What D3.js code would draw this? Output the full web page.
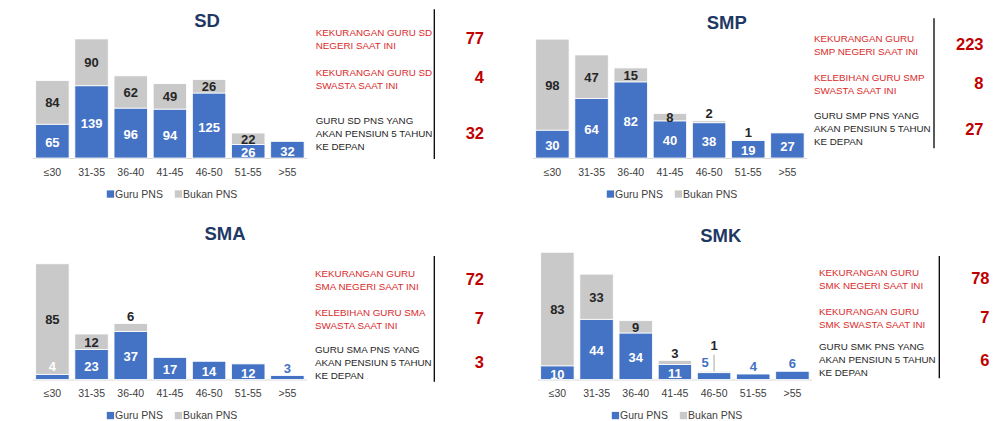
<!DOCTYPE html>
<html>
<head>
<meta charset="utf-8">
<script src="https://cdn.jsdelivr.net/npm/d3@7/dist/d3.min.js"></script>
<style>
  html, body { margin: 0; padding: 0; background: #ffffff; }
  svg { display: block; font-family: "Liberation Sans", Arial, sans-serif; }
</style>
</head>
<body>
<svg id="chart" width="1004" height="421"></svg>
<script>
// Age groups shared by all four school levels
const categories = ["≤30", "31-35", "36-40", "41-45", "46-50", "51-55", ">55"];
const seriesNames = ["Guru PNS", "Bukan PNS"];

// Teacher counts per age group
const sdPns    = [65, 139, 96, 94, 125, 26, 32];
const sdBukan  = [84, 90, 62, 49, 26, 22, 0];
const smpPns   = [30, 64, 82, 40, 38, 19, 27];
const smpBukan = [98, 47, 15, 8, 2, 1, 0];
const smaPns   = [4, 23, 37, 17, 14, 12, 3];
const smaBukan = [85, 12, 6, 0, 0, 0, 0];
const smkPns   = [10, 44, 34, 11, 5, 4, 6];
const smkBukan = [83, 33, 9, 3, 1, 0, 0];

// Side notes: text lines and the figure shown next to them
const sdNotes = [
  ["KEKURANGAN GURU SD", "NEGERI SAAT INI"],
  ["KEKURANGAN GURU SD", "SWASTA SAAT INI"],
  ["GURU SD PNS YANG", "AKAN PENSIUN 5 TAHUN", "KE DEPAN"]
];
const sdNoteValues = [77, 4, 32];
const smpNotes = [
  ["KEKURANGAN GURU", "SMP NEGERI SAAT INI"],
  ["KELEBIHAN GURU SMP", "SWASTA SAAT INI"],
  ["GURU SMP PNS YANG", "AKAN PENSIUN 5 TAHUN", "KE DEPAN"]
];
const smpNoteValues = [223, 8, 27];
const smaNotes = [
  ["KEKURANGAN GURU", "SMA NEGERI SAAT INI"],
  ["KELEBIHAN GURU SMA", "SWASTA SAAT INI"],
  ["GURU SMA PNS YANG", "AKAN PENSIUN 5 TAHUN", "KE DEPAN"]
];
const smaNoteValues = [72, 7, 3];
const smkNotes = [
  ["KEKURANGAN GURU", "SMK NEGERI SAAT INI"],
  ["KEKURANGAN GURU", "SMK SWASTA SAAT INI"],
  ["GURU SMK PNS YANG", "AKAN PENSIUN 5 TAHUN", "KE DEPAN"]
];
const smkNoteValues = [78, 7, 6];

const BLUE = "#4472C4";
const GRAY = "#C9C9C9";
const NAVY = "#1F3864";
const DARK = "#262626";
const RED_TEXT = "#D92B2B";
const RED_NUM = "#C00000";
const SMALL = 7;   // values below this are labelled outside their segment

const svg = d3.select("#chart");

function drawPanel(p) {
  const g = svg.append("g");
  const x = d3.scaleBand().domain(categories).range(p.xRange)
    .paddingInner(0.147).paddingOuter(0.0735);
  const y = d3.scaleLinear().domain([0, p.yMax]).range([p.base, p.base - 130]);

  const rows = categories.map((c, i) => ({ cat: c, pns: p.pns[i], bukan: p.bukan[i] }));
  const stack = d3.stack().keys(["pns", "bukan"])(rows);
  const colors = { pns: BLUE, bukan: GRAY };

  // baseline
  g.append("line")
    .attr("x1", p.xRange[0]).attr("x2", p.xRange[1])
    .attr("y1", p.base + 0.5).attr("y2", p.base + 0.5)
    .attr("stroke", "#D9D9D9").attr("stroke-width", 1);

  // stacked bars
  stack.forEach(layer => {
    g.append("g").selectAll("rect").data(layer).join("rect")
      .attr("x", d => x(d.data.cat))
      .attr("width", x.bandwidth())
      .attr("y", d => y(d[1]))
      .attr("height", d => y(d[0]) - y(d[1]))
      .attr("fill", colors[layer.key])
      .attr("stroke", "#ffffff").attr("stroke-width", 0.8);
  });

  // value labels
  const lab = g.append("g").attr("font-weight", "bold").attr("font-size", 13)
    .attr("text-anchor", "middle");
  rows.forEach(r => {
    const cx = x(r.cat) + x.bandwidth() / 2;
    const blueTop = y(r.pns);
    const top = y(r.pns + r.bukan);
    const bothSmall = r.pns > 0 && r.pns < SMALL && r.bukan > 0 && r.bukan < SMALL;

    if (r.pns > 0) {
      let tx = cx, ty, fill;
      if (r.pns >= SMALL) {
        ty = (blueTop + p.base) / 2 + 6; fill = "#ffffff";
      } else {
        ty = blueTop - 3; fill = r.bukan >= SMALL ? "#ffffff" : BLUE;
        if (bothSmall) { tx = cx - 9; ty -= 3; }
      }
      lab.append("text").attr("x", tx).attr("y", ty).attr("fill", fill).text(r.pns);
    }
    if (r.bukan > 0) {
      let ty;
      if (r.bukan >= SMALL) {
        ty = (top + blueTop) / 2 + 5;
      } else if (bothSmall) {
        ty = top - 21.5;
        g.append("line").attr("x1", cx).attr("x2", cx)
          .attr("y1", top - 16.5).attr("y2", top)
          .attr("stroke", "#A6A6A6").attr("stroke-width", 1);
      } else {
        ty = top - 2.5;
      }
      lab.append("text").attr("x", cx).attr("y", ty).attr("fill", DARK).text(r.bukan);
    }
  });

  // category axis
  const axis = g.append("g").attr("transform", `translate(0,${p.base})`)
    .call(d3.axisBottom(x).tickSize(0).tickPadding(0));
  axis.select(".domain").remove();
  axis.selectAll("text")
    .attr("y", 17.5).attr("dy", null)
    .attr("font-size", 10.5).attr("fill", "#404040")
    .attr("font-family", "Liberation Sans, Arial, sans-serif");

  // legend
  const lx = p.xRange[0] + 74;
  const ly = p.base + 36;
  const leg = g.append("g").attr("font-size", 10.5).attr("fill", "#404040");
  seriesNames.forEach((name, i) => {
    const ox = lx + i * 68;
    leg.append("rect").attr("x", ox).attr("y", ly - 3.6).attr("width", 7.3).attr("height", 7.3)
      .attr("fill", i === 0 ? BLUE : GRAY);
    leg.append("text").attr("x", ox + 8.3).attr("y", ly + 3.8).text(name);
  });

  // title
  g.append("text").attr("x", p.title[1]).attr("y", p.title[2] + 6.6)
    .attr("text-anchor", "middle").attr("font-weight", "bold").attr("font-size", 18.5)
    .attr("fill", NAVY).text(p.title[0]);

  // side notes
  g.append("line").attr("x1", p.rule[0]).attr("x2", p.rule[0])
    .attr("y1", p.rule[1]).attr("y2", p.rule[2])
    .attr("stroke", "#000000").attr("stroke-width", 1.3);
  p.notes.forEach((lines, i) => {
    const y0 = p.noteY[i];
    const col = i < 2 ? RED_TEXT : DARK;
    const t = g.append("text").attr("font-size", 9.8).attr("fill", col);
    lines.forEach((ln, k) => {
      t.append("tspan").attr("x", p.noteX).attr("y", y0 + k * 13 + 3.5).text(ln);
    });
    const cy = y0 + (lines.length - 1) * 6.5 - (lines.length === 2 ? 1 : 0);
    g.append("text").attr("x", p.numX).attr("y", cy + 5.8)
      .attr("text-anchor", "end").attr("font-weight", "bold").attr("font-size", 16.5)
      .attr("fill", RED_NUM).text(p.noteValues[i]);
  });
}

drawPanel({
  pns: sdPns, bukan: sdBukan, yMax: 250, base: 158, xRange: [32.8, 307],
  title: ["SD", 207, 20],
  rule: [434.3, 9.3, 159], noteX: 315.7, numX: 484, noteY: [32.3, 72, 120],
  notes: sdNotes, noteValues: sdNoteValues
});
drawPanel({
  pns: smpPns, bukan: smpBukan, yMax: 140, base: 158, xRange: [532.8, 807],
  title: ["SMP", 726.7, 22.7],
  rule: [934, 18.3, 148.3], noteX: 814, numX: 983.5, noteY: [38.3, 77.3, 115.7],
  notes: smpNotes, noteValues: smpNoteValues
});
drawPanel({
  pns: smaPns, bukan: smaBukan, yMax: 100, base: 379.5, xRange: [32.8, 307],
  title: ["SMA", 225, 233.3],
  rule: [434.3, 256, 381.7], noteX: 315, numX: 484, noteY: [273.3, 312.7, 349.3],
  notes: smaNotes, noteValues: smaNoteValues
});
drawPanel({
  pns: smkPns, bukan: smkBukan, yMax: 95, base: 379.5, xRange: [537.8, 812],
  title: ["SMK", 720.7, 235.7],
  rule: [939.3, 256, 378.3], noteX: 819, numX: 989.5, noteY: [272.7, 311.7, 346.7],
  notes: smkNotes, noteValues: smkNoteValues
});
</script>
</body>
</html>
